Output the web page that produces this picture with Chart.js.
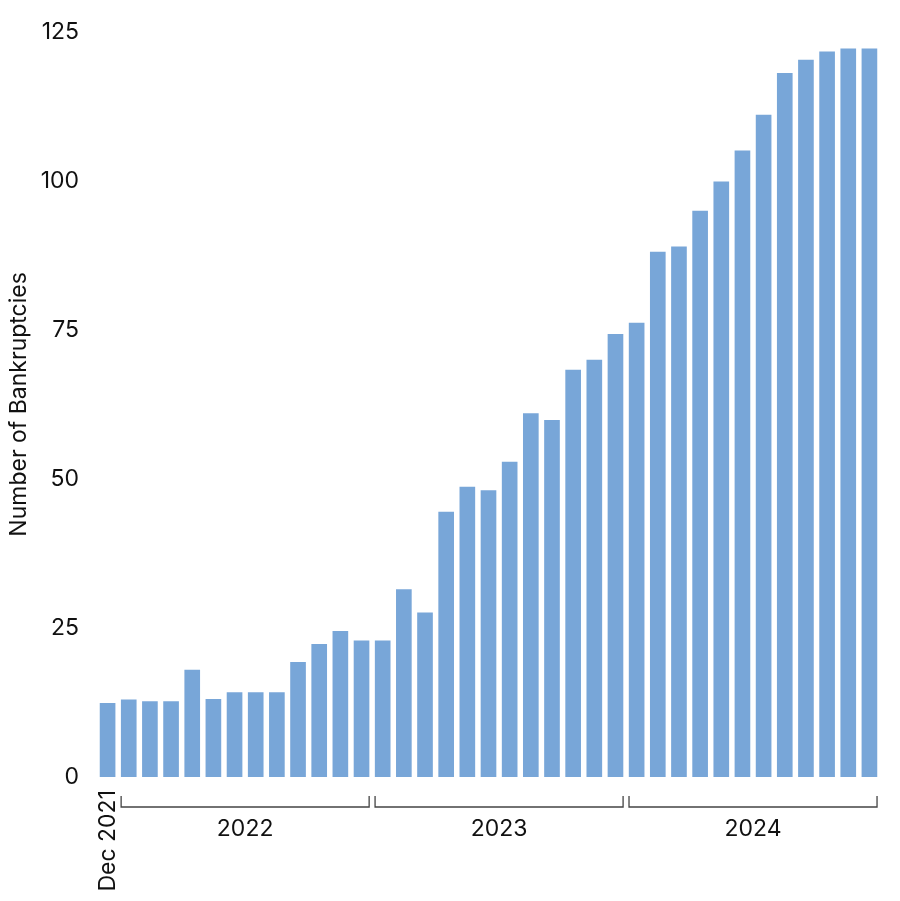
<!DOCTYPE html>
<html>
<head>
<meta charset="utf-8">
<script src="https://cdn.jsdelivr.net/npm/chart.js@4/dist/chart.umd.min.js"></script>
<style>
  html, body { margin: 0; padding: 0; background: #fff; }
  #wrap { width: 900px; height: 901px; }
</style>
</head>
<body>
<div id="wrap"><canvas id="chart"></canvas></div>
<script>
const months = [
  "Dec 2021",
  "Jan 2022", "Feb 2022", "Mar 2022", "Apr 2022", "May 2022", "Jun 2022",
  "Jul 2022", "Aug 2022", "Sep 2022", "Oct 2022", "Nov 2022", "Dec 2022",
  "Jan 2023", "Feb 2023", "Mar 2023", "Apr 2023", "May 2023", "Jun 2023",
  "Jul 2023", "Aug 2023", "Sep 2023", "Oct 2023", "Nov 2023", "Dec 2023",
  "Jan 2024", "Feb 2024", "Mar 2024", "Apr 2024", "May 2024", "Jun 2024",
  "Jul 2024", "Aug 2024", "Sep 2024", "Oct 2024", "Nov 2024", "Dec 2024"
];
const bankruptcies = [
  12.4,
  13.0, 12.7, 12.7, 18.0, 13.1, 14.2, 14.2, 14.2, 19.3, 22.3, 24.5, 22.9,
  22.9, 31.5, 27.6, 44.5, 48.7, 48.1, 52.9, 61.0, 59.9, 68.3, 70.0, 74.3,
  76.2, 88.1, 89.0, 95.0, 99.9, 105.1, 111.1, 118.1, 120.3, 121.7, 122.2, 122.2
];
const years = ["2022", "2023", "2024"];
const yTicks = [0, 25, 50, 75, 100, 125];

const FONT = "Inter, 'Liberation Sans', Arial, sans-serif";

// year brackets under the x axis, placed from the x scale
const yearBrackets = {
  id: "yearBrackets",
  afterDraw(chart) {
    const x = chart.scales.x;
    const ctx = chart.ctx;
    const half = (x.getPixelForValue(1) - x.getPixelForValue(0)) * 0.36;
    const top = chart.chartArea.bottom + 19;
    const line = chart.chartArea.bottom + 30;
    ctx.save();
    ctx.strokeStyle = "#444";
    ctx.lineWidth = 1.3;
    ctx.fillStyle = "#111";
    ctx.font = "23px " + FONT;
    ctx.textAlign = "center";
    ctx.textBaseline = "middle";
    years.forEach((yr) => {
      const idx = months.map((m, i) => (m.endsWith(yr) ? i : -1)).filter((i) => i >= 0);
      const x0 = x.getPixelForValue(idx[0]) - half;
      const x1 = x.getPixelForValue(idx[idx.length - 1]) + half;
      ctx.beginPath();
      ctx.moveTo(x0, top);
      ctx.lineTo(x0, line);
      ctx.lineTo(x1, line);
      ctx.lineTo(x1, top);
      ctx.stroke();
      ctx.fillText(yr, (x0 + x1) / 2, line + 22);
    });
    ctx.restore();
  },
};

new Chart(document.getElementById("chart"), {
  type: "bar",
  data: {
    labels: months,
    datasets: [
      {
        data: bankruptcies,
        backgroundColor: "#78a6d8",
        categoryPercentage: 1,
        barPercentage: 0.74,
      },
    ],
  },
  plugins: [yearBrackets],
  options: {
    responsive: true,
    maintainAspectRatio: false,
    animation: false,
    layout: { padding: { top: 16, right: 20, left: 0, bottom: 0 } },
    plugins: {
      legend: { display: false },
      tooltip: { enabled: false },
    },
    scales: {
      x: {
        grid: { display: false, drawTicks: false },
        border: { display: false },
        ticks: {
          autoSkip: false,
          minRotation: 90,
          maxRotation: 90,
          padding: 13,
          color: "#111",
          font: { family: FONT, size: 23 },
          callback: (v, i) => (i === 0 ? months[0] : ""),
        },
        afterFit: (scale) => {
          scale.height = 124;
          scale.paddingLeft = 0;
          scale.paddingRight = 0;
        },
      },
      y: {
        min: 0,
        max: 125,
        afterBuildTicks: (scale) => { scale.ticks = yTicks.map((v) => ({ value: v })); },
        grid: { display: false, drawTicks: false },
        border: { display: false },
        ticks: {
          padding: 18,
          color: "#111",
          font: { family: FONT, size: 23 },
        },
        title: {
          display: true,
          text: "Number of Bankruptcies",
          color: "#111",
          font: { family: FONT, size: 23 },
          padding: { top: 5, bottom: 4 },
        },
        afterFit: (scale) => { scale.width = 97; },
      },
    },
  },
});
</script>
</body>
</html>
